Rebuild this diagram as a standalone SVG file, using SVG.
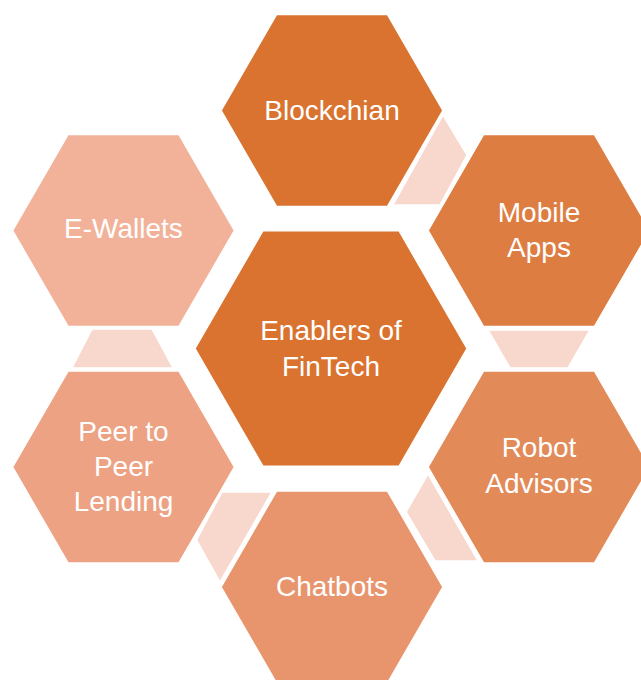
<svg xmlns="http://www.w3.org/2000/svg" width="641" height="680" viewBox="0 0 641 680">
<style>
.hex{stroke:#ffffff;stroke-width:1.5}
.con{fill:#F8D8CD;stroke:#ffffff;stroke-width:1.5}
.lbl{font-family:"Liberation Sans",Arial,sans-serif;font-size:28px;fill:#ffffff;text-anchor:middle}
</style>
<rect width="641" height="680" fill="#ffffff"/>
<g id="connectors">
<polygon class="con" points="443,115 467,155 440,205 393,205"/>
<polygon class="con" points="488,330 590,330 568,368 510,368"/>
<polygon class="con" points="428,474 478,561 435,561 406,512"/>
<polygon class="con" points="272,492 220,582 196.5,540 222,492"/>
<polygon class="con" points="72,368 173,368 152,329 92,329"/>
</g>
<g id="center">
<polygon class="hex" fill="#D9732F" points="195,348.5 263,230.7 399,230.7 467,348.5 399,466.3 263,466.3"/>
<text class="lbl" x="331" y="340">Enablers of</text>
<text class="lbl" x="331" y="376">FinTech</text>
</g>
<g id="blockchian">
<polygon class="hex" fill="#D9732F" points="221,110.5 276.5,14.5 387.5,14.5 443,110.5 387.5,206.5 276.5,206.5"/>
<text class="lbl" x="332" y="120">Blockchian</text>
</g>
<g id="mobile-apps">
<polygon class="hex" fill="#DD7D42" points="428,230.5 483.5,134.5 594.5,134.5 650,230.5 594.5,326.5 483.5,326.5"/>
<text class="lbl" x="539" y="222">Mobile</text>
<text class="lbl" x="539" y="257">Apps</text>
</g>
<g id="robot-advisors">
<polygon class="hex" fill="#E38A59" points="428,467 483.5,371 594.5,371 650,467 594.5,563 483.5,563"/>
<text class="lbl" x="539" y="457">Robot</text>
<text class="lbl" x="539" y="493">Advisors</text>
</g>
<g id="chatbots">
<polygon class="hex" fill="#E8956E" points="221,587 276.5,491 387.5,491 443,587 387.5,683 276.5,683"/>
<text class="lbl" x="332" y="596">Chatbots</text>
</g>
<g id="peer-lending">
<polygon class="hex" fill="#EDA283" points="12.5,467 68,371 179,371 234.5,467 179,563 68,563"/>
<text class="lbl" x="123.5" y="441">Peer to</text>
<text class="lbl" x="123.5" y="476">Peer</text>
<text class="lbl" x="123.5" y="511">Lending</text>
</g>
<g id="e-wallets">
<polygon class="hex" fill="#F2B29A" points="12.5,230.5 68,134.5 179,134.5 234.5,230.5 179,326.5 68,326.5"/>
<text class="lbl" x="123.5" y="238">E-Wallets</text>
</g>
</svg>
